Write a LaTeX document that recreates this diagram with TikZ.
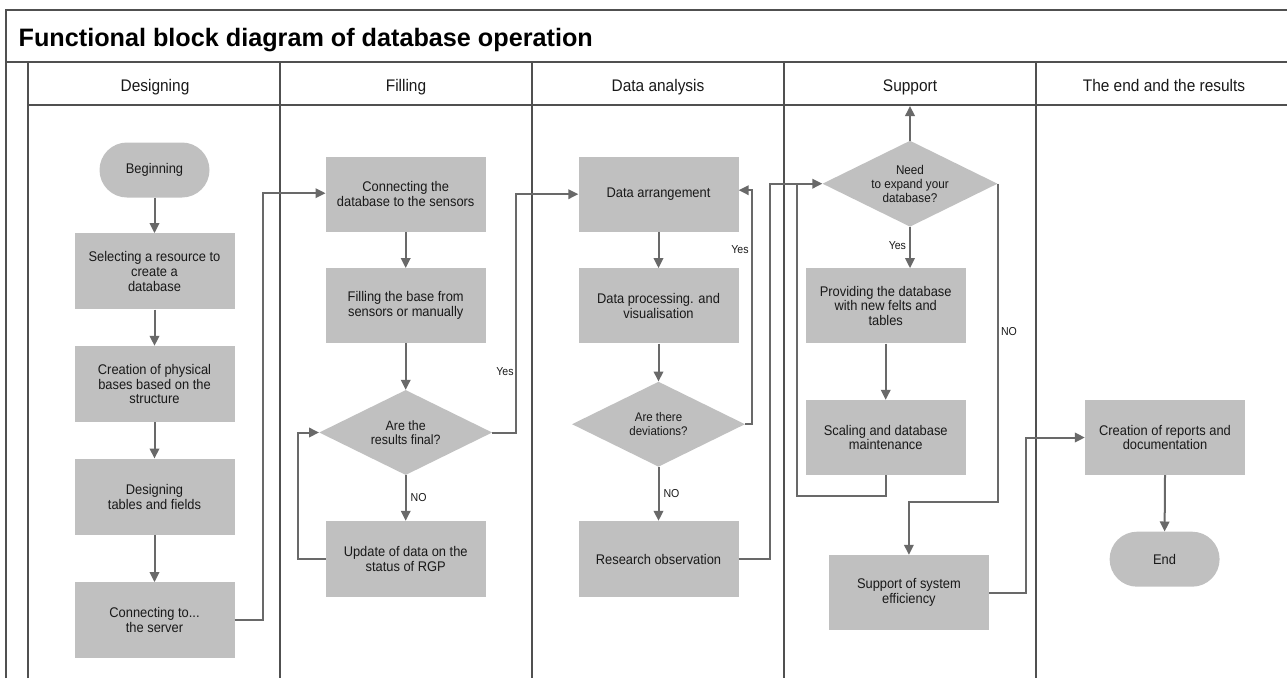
\documentclass[tikz,border=0pt]{standalone}
\usepackage{fontspec}
\setmainfont{Liberation Sans}
\newfontfamily\bodyfont{Liberation Sans}[FakeStretch=0.92]
\usetikzlibrary{arrows.meta,shapes.geometric,calc}
\definecolor{boxgray}{RGB}{192,192,192}
\definecolor{conncol}{RGB}{105,105,105}
\definecolor{lanecol}{RGB}{80,80,80}
\definecolor{txtcol}{RGB}{25,25,25}
\tikzset{
  stepbox/.style={rectangle, fill=boxgray, minimum width=160pt, minimum height=76pt, inner sep=0pt, align=center, text=txtcol, font=\bodyfont\fontsize{14}{14.7}\selectfont},
  termbox/.style={rectangle, rounded corners=27.5pt, fill=boxgray, minimum width=110pt, minimum height=55pt, inner sep=0pt, align=center, text=txtcol, font=\bodyfont\fontsize{14}{14.7}\selectfont},
  decbox/.style={diamond, aspect=2, fill=boxgray, minimum width=173pt, minimum height=85pt, inner sep=0pt, align=center, text=txtcol, font=\bodyfont\fontsize{13.5}{14.5}\selectfont},
  conn/.style={draw=conncol, line width=2pt, line join=miter, -{Triangle[length=10pt,width=9.5pt]}},
  plainconn/.style={draw=conncol, line width=2pt, line join=miter},
  laneline/.style={draw=lanecol, line width=1.6pt},
  headtxt/.style={anchor=base, inner sep=0pt, text=txtcol, font=\bodyfont\fontsize{16.8}{18}\selectfont},
  lbl/.style={inner sep=0pt, text=txtcol, font=\bodyfont\fontsize{11.5}{12}\selectfont}
}
\begin{document}
\begin{tikzpicture}[x=1pt,y=-1pt]
\useasboundingbox (0,0) rectangle (1287,678);
% frame and lanes
\draw[laneline] (6,678) -- (6,10) -- (1290,10);
\draw[laneline] (6,62) -- (1290,62);
\draw[laneline] (28,678) -- (28,62);
\draw[laneline] (28,105) -- (1290,105);
\foreach \xx in {280,532,784,1036} { \draw[laneline] (\xx,62) -- (\xx,678); }
% title and headers
\node[anchor=base west, inner sep=0pt, text=black, font=\bfseries\fontsize{25.2}{28}\selectfont] (title) at (18.5,46.7) {Functional block diagram of database operation};
\node[headtxt] (h1) at (155,91) {Designing};
\node[headtxt] (h2) at (406,91) {Filling};
\node[headtxt] (h3) at (658,91) {Data analysis};
\node[headtxt] (h4) at (910,91) {Support};
\node[headtxt] (h5) at (1164,91) {The end and the results};
% Designing
\node[termbox] (begin) at (154.5,170) {Beginning};
\node[stepbox] (sel) at (154.5,271.3) {Selecting a resource to\\create a\\database};
\node[stepbox] (phys) at (154.5,384) {Creation of physical\\bases based on the\\structure};
\node[stepbox] (tab) at (154.5,496.7) {Designing\\tables and fields};
\node[stepbox] (srv) at (154.5,620.3) {Connecting to...\\the server};
% Filling
\node[stepbox, minimum height=75pt] (cdb) at (405.7,194.2) {Connecting the\\database to the sensors};
\node[stepbox, minimum height=75pt] (fill) at (405.7,305.7) {Filling the base from\\sensors or manually};
\node[decbox] (fin) at (405.7,432.5) {Are the\\results final?};
\node[stepbox] (upd) at (405.7,559) {Update of data on the\\status of RGP};
% Data analysis
\node[stepbox, minimum height=75pt] (arr) at (658.5,194.2) {Data arrangement};
\node[stepbox, minimum height=75pt] (proc) at (658.5,305.8) {Data processing. and\\visualisation};
\node[decbox, font=\bodyfont\fontsize{12.5}{13.4}\selectfont] (dev) at (658.5,424.2) {Are there\\deviations?};
\node[stepbox] (res) at (658.5,559) {Research observation};
% Support
\node[decbox, minimum width=175pt, minimum height=86pt, font=\bodyfont\fontsize{12.7}{14}\selectfont] (need) at (910,183.7) {Need\\to expand your\\database?};
\node[stepbox, minimum height=75pt] (prov) at (885.7,305.8) {Providing the database\\with new felts and\\tables};
\node[stepbox, minimum height=75pt] (scal) at (885.7,437.5) {Scaling and database\\maintenance};
\node[stepbox, minimum height=75pt] (sup) at (908.9,592.5) {Support of system\\efficiency};
% End
\node[stepbox, minimum height=75pt] (rep) at (1165,437.5) {Creation of reports and\\documentation};
\node[termbox] (end) at (1164.6,559.2) {End};
% helper coordinates
\coordinate (arrin) at ($(arr.east)+(0,-4)$);
\coordinate (needtop) at (910,106);
% connectors: Designing
\draw[conn] (begin.south) -- (sel.north);
\draw[conn] (sel.south) -- (phys.north);
\draw[conn] (phys.south) -- (tab.north);
\draw[conn] (tab.south) -- (srv.north);
\draw[conn] (srv.east) -- ++(28.5,0) |- ($(cdb.west)+(0,-1)$);
% Filling
\draw[conn] (cdb.south) -- (fill.north);
\draw[conn] (fill.south) -- (fin.north);
\draw[conn] (fin.south) -- node[lbl, anchor=west, xshift=4pt] (lno1) {NO} (upd.north);
\draw[conn] (upd.west) -- ++(-27.2,0) |- (fin.west);
\draw[conn] (fin.east) -- ++(24,0) |- (arr.west);
\node[lbl] (lyes1) at (505,372) {Yes};
% Data analysis
\draw[conn] (arr.south) -- (proc.north);
\draw[conn] (proc.south) -- (dev.north);
\draw[conn] (dev.south) -- node[lbl, anchor=west, xshift=4pt] (lno2) {NO} (res.north);
\draw[conn] (dev.east) -- ++(6.5,0) |- (arrin);
\node[lbl] (lyes2) at (740,250) {Yes};
\draw[conn] (res.east) -- ++(31,0) |- (need.west);
% Support
\draw[conn] (need.north) -- (needtop);
\draw[conn] (need.south) -- node[lbl, anchor=east, xshift=-3pt, pos=0.45] (lyes3) {Yes} (need.south |- prov.north);
\draw[conn] (prov.south) -- (scal.north);
\draw[plainconn] (scal.south) -- ++(0,20.7) -| ($(need.west)+(-25,0)$);
\draw[conn] (need.east) -- ++(0,318.6) -| (sup.north);
\node[lbl] (lno3) at (1009,332) {NO};
\draw[conn] (sup.east) -- ++(36.7,0) |- (rep.west);
% End
\draw[conn] (rep.south) -- (end.north);
\end{tikzpicture}
\end{document}
